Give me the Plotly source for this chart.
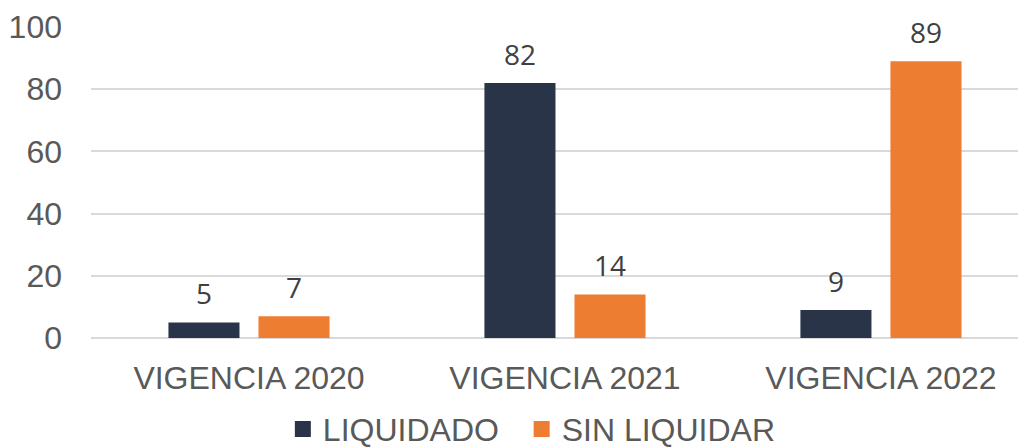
import plotly.graph_objects as go

categories = ["VIGENCIA 2020", "VIGENCIA 2021", "VIGENCIA 2022"]
liquidado = [5, 82, 9]
sin_liquidar = [7, 14, 89]
series_names = ["LIQUIDADO", "SIN LIQUIDAR"]
colors = ["#2A3449", "#ED7D31"]
y_ticks = [0, 20, 40, 60, 80, 100]

fig = go.Figure()
for name, vals, col in zip(series_names, [liquidado, sin_liquidar], colors):
    fig.add_trace(go.Bar(x=categories, y=vals, name=name, marker_color=col,
                         marker_line_width=0, showlegend=False))
# legend entries with larger square symbols (non-breaking spaces widen the gap)
legend_labels = [series_names[0] + "\u00a0\u00a0", series_names[1]]
for name, col in zip(legend_labels, colors):
    fig.add_trace(go.Scatter(x=[None], y=[None], mode="markers", name=name,
                             marker=dict(symbol="square", size=17, color=col)))

offsets = [-45, 45]
for vals, dx in zip([liquidado, sin_liquidar], offsets):
    for c, v in zip(categories, vals):
        fig.add_annotation(x=c, y=v, text=str(v), showarrow=False, xshift=dx,
                           yanchor="middle", yshift=29,
                           font=dict(family="Open Sans", size=28, color="#404040"))

fig.update_layout(
    width=1026, height=448,
    margin=dict(l=83, r=8, t=19, b=118, autoexpand=False),
    paper_bgcolor="white", plot_bgcolor="white",
    barmode="group", bargap=0.43, bargroupgap=0.211,
    font=dict(family="Liberation Sans", size=32, color="#595959"),
    showlegend=True,
    legend=dict(orientation="h", x=0.4715, xanchor="center", y=-0.293, yanchor="middle",
                font=dict(size=32, color="#595959"), itemwidth=30, traceorder="normal"),
    xaxis=dict(range=[-0.5, 2.459], showgrid=False, showline=False, ticks="",
               ticklabelstandoff=18, tickfont=dict(size=32, color="#595959")),
    yaxis=dict(range=[0, 100], tickvals=y_ticks, showgrid=True, gridcolor="#D9D9D9",
               gridwidth=1.5, zeroline=True, zerolinecolor="#D9D9D9", zerolinewidth=1.5,
               ticks="", ticklabelstandoff=28, tickfont=dict(size=32, color="#595959")),
)
fig.write_html("out.html")
